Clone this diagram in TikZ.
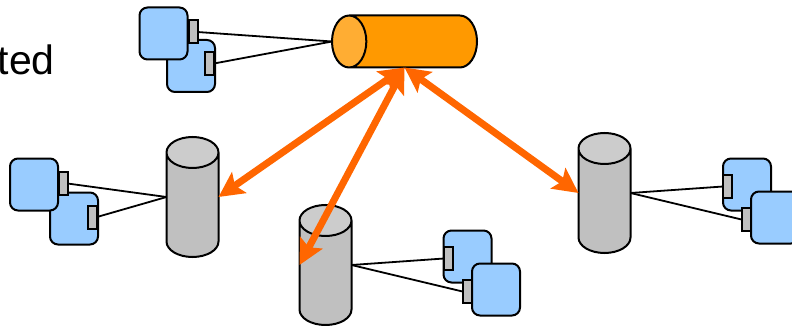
\documentclass[tikz,border=0pt]{standalone}
\usepackage{fontspec}
\setmainfont{Liberation Sans}
\usetikzlibrary{arrows.meta,shapes.geometric}
\definecolor{camblue}{HTML}{99CCFF}
\definecolor{portgray}{HTML}{C0C0C0}
\definecolor{topgray}{HTML}{CCCCCC}
\definecolor{storeorange}{HTML}{FF9900}
\definecolor{endorange}{HTML}{FFAD33}
\definecolor{linkorange}{HTML}{FF6600}
\tikzset{
	camera/.style={draw,line width=2pt,fill=camblue,rounded corners=8pt,minimum width=48pt,minimum height=52pt,inner sep=0pt,outer sep=0pt},
	port/.style={draw,line width=2pt,fill=portgray,minimum width=9pt,minimum height=23pt,inner sep=0pt,outer sep=0pt},
	server/.style={shape=cylinder,anchor=shape center,draw,line width=2pt,shape border rotate=90,aspect=4.65,cylinder uses custom fill,cylinder body fill=portgray,cylinder end fill=topgray,minimum width=52pt,minimum height=120pt,outer sep=0pt},
	master/.style={shape=cylinder,anchor=shape center,draw,line width=2pt,shape border rotate=180,aspect=5.15,cylinder uses custom fill,cylinder body fill=storeorange,cylinder end fill=endorange,minimum width=52pt,minimum height=145pt,outer sep=0pt},
	wire/.style={line width=1.8pt},
	link/.style={linkorange,line width=7pt,{Stealth[length=25pt,width=25pt,inset=5pt]}-{Stealth[length=25pt,width=25pt,inset=5pt]}}
}
\begin{document}
\begin{tikzpicture}[x=1pt,y=-1pt]
	\useasboundingbox (0,0) rectangle (792,326);
	\node[anchor=base east,inner sep=0pt,font=\fontsize{41}{44}\selectfont] (title) at (55,74.5) {ted};

	\node[master] (main) at (404.5,41.5) {};
	\node[server] (left) at (192.5,197) {};
	\node[server] (mid) at (325.5,265) {};
	\node[server] (right) at (604.5,193) {};

	% cameras on the main store
	\node[camera] (a2) at (191,66) {};
	\node[port] (a2p) at (209.5,63.5) {};
	\node[camera] (a1) at (163.5,33.5) {};
	\node[port] (a1p) at (193,32) {};
	\draw[wire] (a1p.east) -- (main.west |- main.shape center);
	\draw[wire] (a2p.east) -- (main.west |- main.shape center);

	% cameras on the left server
	\node[camera] (b2) at (74,218.5) {};
	\node[port] (b2p) at (92.5,217) {};
	\node[camera] (b1) at (34,184.5) {};
	\node[port] (b1p) at (63,183.5) {};
	\draw[wire] (b1p.east) -- (left.west |- left.shape center);
	\draw[wire] (b2p.east) -- (left.west |- left.shape center);

	% cameras on the middle server
	\node[camera] (c1) at (467.5,256.5) {};
	\node[port] (c1p) at (448.5,258.5) {};
	\node[camera] (c2) at (496,289.5) {};
	\node[port] (c2p) at (467,291.5) {};
	\draw[wire] (mid.east |- mid.shape center) -- (c1p.west);
	\draw[wire] (mid.east |- mid.shape center) -- (c2p.west);

	% cameras on the right server
	\node[camera] (d1) at (747,184.5) {};
	\node[port] (d1p) at (727.5,186.5) {};
	\node[camera] (d2) at (775,217.5) {};
	\node[port] (d2p) at (746,219.5) {};
	\draw[wire] (right.east |- right.shape center) -- (d1p.west);
	\draw[wire] (right.east |- right.shape center) -- (d2p.west);

	\draw[link] (main.shape center |- main.south) -- (left.east |- left.shape center);
	\draw[link] (main.shape center |- main.south) -- (mid.west |- mid.shape center);
	\draw[link] (main.shape center |- main.south) -- (right.west |- right.shape center);
\end{tikzpicture}
\end{document}
